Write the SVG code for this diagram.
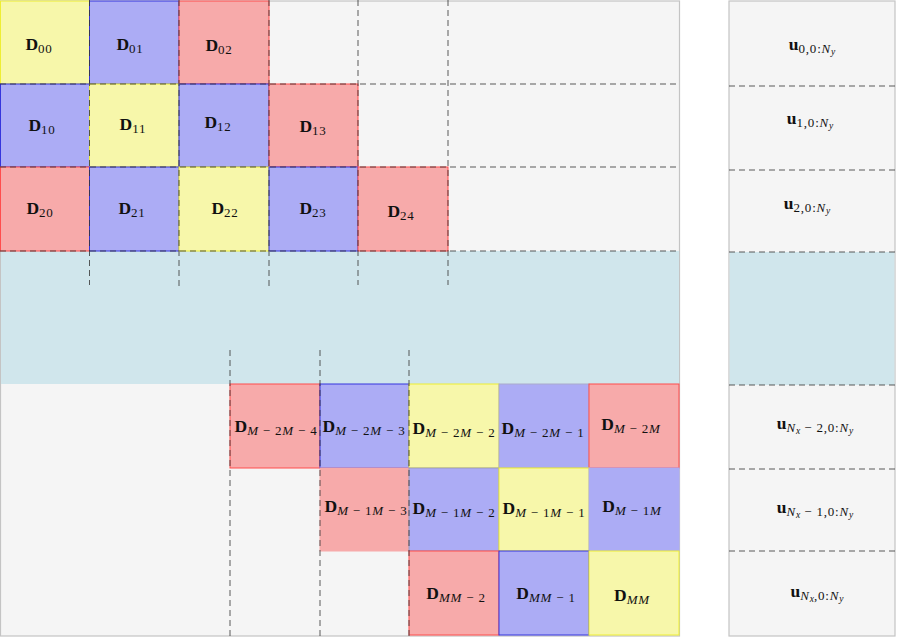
<svg xmlns="http://www.w3.org/2000/svg" width="897" height="638" viewBox="0 0 897 638">
<style>
.bg{fill:#f5f5f5;stroke:#c4c4c4;stroke-width:1.2}
.band{fill:#d0e6ec}
.y{fill:#f7f7aa;stroke:#eeee33;stroke-width:1}
.b{fill:#acacf5;stroke:#3535dd;stroke-width:1}
.r{fill:#f7aaaa;stroke:#ff4d4d;stroke-width:1}
.d{stroke:#333;stroke-width:1;stroke-dasharray:6 4;fill:none;opacity:0.8}
text{font-family:"Liberation Serif","DejaVu Serif",serif;fill:#111;text-anchor:middle}
.L{font-size:17.5px;font-weight:bold}
.s{font-size:13px;font-weight:normal;letter-spacing:0.8px}
.i{font-style:italic}
.ss{font-size:9.5px;font-style:italic;font-weight:normal}
</style>
<g id="matrix-bg"><rect class="bg" x="0.5" y="1" width="679" height="635"/><rect class="band" x="1" y="251" width="678" height="133"/></g>
<g id="vector-bg"><rect class="bg" x="729" y="1" width="166" height="635"/><rect class="band" x="729.6" y="252" width="164.8" height="133"/></g>
<g id="D00"><rect class="y" x="0.5" y="1" width="89" height="83"/><text class="L" x="39" y="50">D<tspan class="s" dy="3">00</tspan></text></g>
<g id="D01"><rect class="b" x="89.5" y="1" width="89.5" height="83"/><text class="L" x="130" y="50">D<tspan class="s" dy="3">01</tspan></text></g>
<g id="D02"><rect class="r" x="179" y="1" width="90" height="83"/><text class="L" x="219" y="51">D<tspan class="s" dy="3">02</tspan></text></g>
<g id="D10"><rect class="b" x="0.5" y="84" width="89" height="83"/><text class="L" x="42" y="131">D<tspan class="s" dy="3">10</tspan></text></g>
<g id="D11"><rect class="y" x="89.5" y="84" width="89.5" height="83"/><text class="L" x="133" y="130">D<tspan class="s" dy="3">11</tspan></text></g>
<g id="D12"><rect class="b" x="179" y="84" width="90" height="83"/><text class="L" x="218" y="128">D<tspan class="s" dy="3">12</tspan></text></g>
<g id="D13"><rect class="r" x="269" y="84" width="89" height="83"/><text class="L" x="313" y="132">D<tspan class="s" dy="3">13</tspan></text></g>
<g id="D20"><rect class="r" x="0.5" y="167" width="89" height="84"/><text class="L" x="40" y="214">D<tspan class="s" dy="3">20</tspan></text></g>
<g id="D21"><rect class="b" x="89.5" y="167" width="89.5" height="84"/><text class="L" x="132" y="214">D<tspan class="s" dy="3">21</tspan></text></g>
<g id="D22"><rect class="y" x="179" y="167" width="90" height="84"/><text class="L" x="225" y="214">D<tspan class="s" dy="3">22</tspan></text></g>
<g id="D23"><rect class="b" x="269" y="167" width="89" height="84"/><text class="L" x="313" y="214">D<tspan class="s" dy="3">23</tspan></text></g>
<g id="D24"><rect class="r" x="358" y="167" width="90" height="84"/><text class="L" x="401" y="217">D<tspan class="s" dy="3">24</tspan></text></g>
<g id="DM2M4"><rect class="r" x="230" y="384" width="90" height="84"/><text class="L" x="276" y="432">D<tspan class="s" dy="3"><tspan class="i">M</tspan> − 2<tspan class="i">M</tspan> − 4</tspan></text></g>
<g id="DM2M3"><rect class="b" x="320" y="384" width="89" height="84"/><text class="L" x="364" y="432">D<tspan class="s" dy="3"><tspan class="i">M</tspan> − 2<tspan class="i">M</tspan> − 3</tspan></text></g>
<g id="DM2M2"><rect class="y" x="409" y="384" width="90" height="84"/><text class="L" x="454" y="434">D<tspan class="s" dy="3"><tspan class="i">M</tspan> − 2<tspan class="i">M</tspan> − 2</tspan></text></g>
<g id="DM2M1"><rect class="b" x="499" y="384" width="90" height="84" style="stroke:#aaaacc"/><text class="L" x="543" y="434">D<tspan class="s" dy="3"><tspan class="i">M</tspan> − 2<tspan class="i">M</tspan> − 1</tspan></text></g>
<g id="DM2M"><rect class="r" x="589" y="384" width="90" height="84"/><text class="L" x="631" y="430">D<tspan class="s" dy="3"><tspan class="i">M</tspan> − 2<tspan class="i">M</tspan></tspan></text></g>
<g id="DM1M3"><rect class="r" x="320" y="468" width="89" height="83" style="stroke:#f7aaaa"/><text class="L" x="366" y="512">D<tspan class="s" dy="3"><tspan class="i">M</tspan> − 1<tspan class="i">M</tspan> − 3</tspan></text></g>
<g id="DM1M2"><rect class="b" x="409" y="468" width="90" height="83" style="stroke:#9999bb"/><text class="L" x="454" y="514">D<tspan class="s" dy="3"><tspan class="i">M</tspan> − 1<tspan class="i">M</tspan> − 2</tspan></text></g>
<g id="DM1M1"><rect class="y" x="499" y="468" width="90" height="83"/><text class="L" x="544" y="514">D<tspan class="s" dy="3"><tspan class="i">M</tspan> − 1<tspan class="i">M</tspan> − 1</tspan></text></g>
<g id="DM1M"><rect class="b" x="589" y="468" width="90" height="83" style="stroke:#acacf5"/><text class="L" x="632" y="512">D<tspan class="s" dy="3"><tspan class="i">M</tspan> − 1<tspan class="i">M</tspan></tspan></text></g>
<g id="DMM2"><rect class="r" x="409" y="551" width="90" height="84"/><text class="L" x="456" y="599">D<tspan class="s" dy="3"><tspan class="i">MM</tspan> − 2</tspan></text></g>
<g id="DMM1"><rect class="b" x="499" y="551" width="90" height="84"/><text class="L" x="546" y="599">D<tspan class="s" dy="3"><tspan class="i">MM</tspan> − 1</tspan></text></g>
<g id="DMM"><rect class="y" x="589" y="551" width="90" height="84"/><text class="L" x="632" y="601">D<tspan class="s i" dy="3">MM</tspan></text></g>
<g id="u0"><text class="L" x="812" y="50">u<tspan class="s" dy="3">0,0:<tspan class="i">N</tspan></tspan><tspan class="ss" dy="2">y</tspan></text></g>
<g id="u1"><text class="L" x="810" y="124">u<tspan class="s" dy="3">1,0:<tspan class="i">N</tspan></tspan><tspan class="ss" dy="2">y</tspan></text></g>
<g id="u2"><text class="L" x="807" y="209">u<tspan class="s" dy="3">2,0:<tspan class="i">N</tspan></tspan><tspan class="ss" dy="2">y</tspan></text></g>
<g id="uNx2"><text class="L" x="815" y="429">u<tspan class="s i" dy="3">N</tspan><tspan class="ss" dy="2">x</tspan><tspan class="s" dy="-2"> − 2,0:<tspan class="i">N</tspan></tspan><tspan class="ss" dy="2">y</tspan></text></g>
<g id="uNx1"><text class="L" x="815" y="513">u<tspan class="s i" dy="3">N</tspan><tspan class="ss" dy="2">x</tspan><tspan class="s" dy="-2"> − 1,0:<tspan class="i">N</tspan></tspan><tspan class="ss" dy="2">y</tspan></text></g>
<g id="uNx"><text class="L" x="817" y="597">u<tspan class="s i" dy="3">N</tspan><tspan class="ss" dy="2">x</tspan><tspan class="s" dy="-2">,0:<tspan class="i">N</tspan></tspan><tspan class="ss" dy="2">y</tspan></text></g>
<g id="connectors">
<path class="d" d="M89.5 0V285M179 0V287M269 0V290M358 0V285M448 0V285"/>
<path class="d" d="M0 84H679M0 167H679M0 251H679"/>
<path class="d" d="M230 350V636M320 350V636M409 350V636"/>
<path class="d" d="M729 86H895M729 170H895M729 252H895M729 385H895M729 469H895M729 551H895"/>
</g>
</svg>
